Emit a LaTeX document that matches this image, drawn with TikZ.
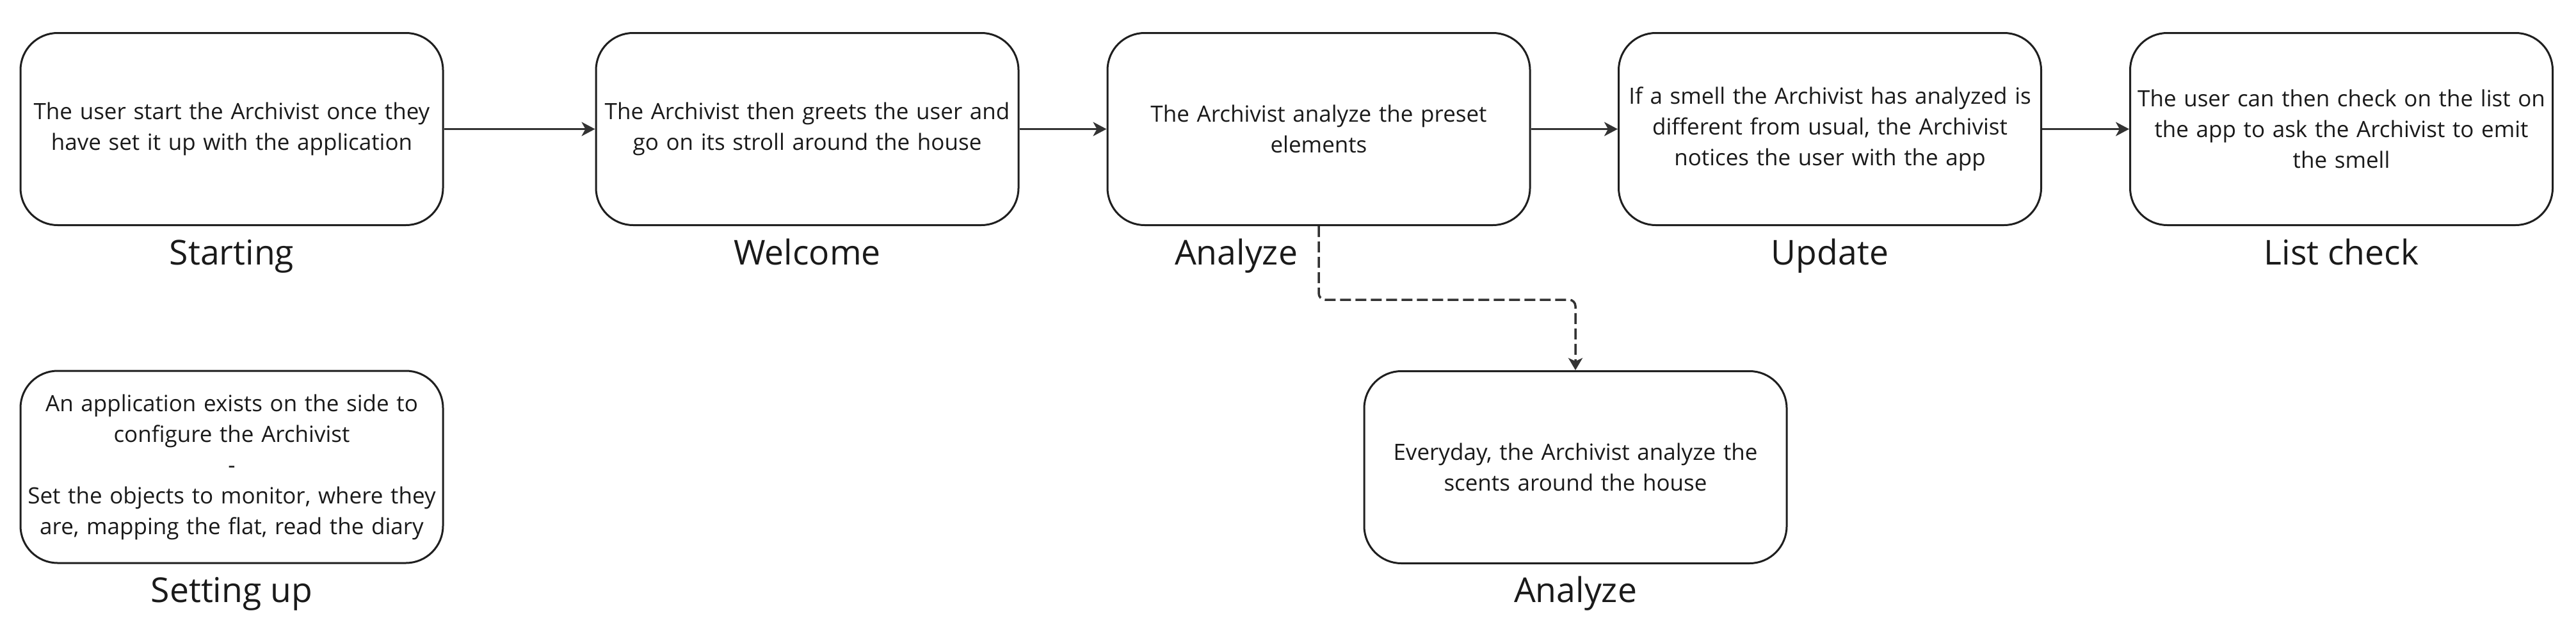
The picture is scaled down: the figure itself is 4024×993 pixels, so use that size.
\documentclass[tikz,border=0pt]{standalone}
\usepackage{fontspec}
\setmainfont{Open Sans}
\usetikzlibrary{arrows.meta}
\definecolor{boxline}{HTML}{1F1F1F}
\definecolor{conn}{HTML}{333333}
\definecolor{txt}{HTML}{1A1A1A}
\begin{document}
\begin{tikzpicture}[x=1pt,y=-1pt,
  stepbox/.style={draw=boxline, line width=3pt, rounded corners=58pt,
    minimum width=660pt, minimum height=300pt, inner sep=0pt,
    text width=645pt, align=center, text=txt,
    font=\fontsize{35}{48}\selectfont},
  lbl/.style={anchor=base, text=txt, inner sep=0pt, font=\fontsize{53.5}{62}\selectfont},
  flow/.style={draw=conn, line width=3pt,
    -{Stealth[length=21pt,width=22pt,inset=6pt]}},
  dflow/.style={draw=conn, line width=3.5pt, dash pattern=on 17pt off 7pt,
    rounded corners=10pt, -{Stealth[length=19pt,width=22pt,inset=5pt]}}]
\useasboundingbox (0,0) rectangle (4024,993);
\fill[white] (0,0) rectangle (4024,993);

\node[stepbox] (b1) at (362,201.5) {The user start the Archivist once they\\have set it up with the application};
\node[stepbox] (b2) at (1261,201.5) {The Archivist then greets the user and\\go on its stroll around the house};
\node[stepbox] (b3) at (2060,201.5) {The Archivist analyze the preset\\elements};
\node[stepbox] (b4) at (2858.5,201.5) {If a smell the Archivist has analyzed is\\different from usual, the Archivist\\notices the user with the app};
\node[stepbox] (b5) at (3657.5,201.5) {The user can then check on the list on\\the app to ask the Archivist to emit\\the smell};
\node[stepbox] (b6) at (362,729) {An application exists on the side to\\configure the Archivist\\-\\Set the objects to monitor, where they\\are, mapping the flat, read the diary};
\node[stepbox] (b7) at (2461,729.5) {Everyday, the Archivist analyze the\\scents around the house};

\node[lbl] (l1) at (362,413) {Starting};
\node[lbl] (l2) at (1261,413) {Welcome};
\node[lbl] (l3) at (1931,413) {Analyze};
\node[lbl] (l4) at (2858.5,413) {Update};
\node[lbl] (l5) at (3657.5,413) {List check};
\node[lbl] (l6) at (362,940) {Setting up};
\node[lbl] (l7) at (2461,940) {Analyze};

\draw[flow] (b1.east) -- (b2.west);
\draw[flow] (b2.east) -- (b3.west);
\draw[flow] (b3.east) -- (b4.west);
\draw[flow] (b4.east) -- (b5.west);
\draw[dflow] (b3.south) -- ++(0,115) -| (b7.north);
\end{tikzpicture}
\end{document}
